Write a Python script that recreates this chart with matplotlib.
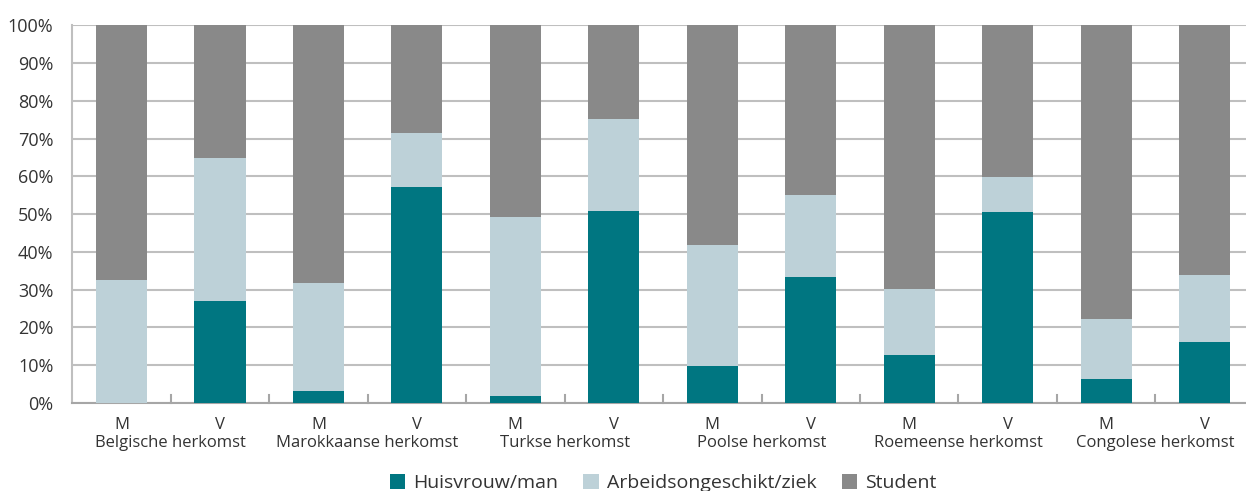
import matplotlib
matplotlib.use("Agg")
import matplotlib.pyplot as plt
import numpy as np

plt.rcParams['font.family'] = ['Open Sans', 'DejaVu Sans']

groups = ["Belgische herkomst", "Marokkaanse herkomst", "Turkse herkomst",
          "Poolse herkomst", "Roemeense herkomst", "Congolese herkomst"]
sexes = ["M", "V"]
huisvrouw = [0.0, 27.0, 3.1, 57.2, 1.9, 50.8, 9.8, 33.3, 12.6, 50.5, 6.3, 16.1]
arbeids = [32.5, 37.9, 28.6, 14.3, 47.3, 24.3, 32.0, 21.7, 17.5, 9.3, 15.9, 17.7]
student = [100 - h - a for h, a in zip(huisvrouw, arbeids)]

c_huis = "#007681"
c_arb = "#BDD1D8"
c_stu = "#898989"

fig = plt.figure(figsize=(12.46, 4.91), dpi=100)
ax = fig.add_axes([72.2/1246, 1 - 403/491, (1246 - 72.2)/1246, (403 - 25.3)/491])

x = np.arange(len(huisvrouw))
w = 0.52
h = np.array(huisvrouw); a = np.array(arbeids); s = np.array(student)
ax.bar(x, h, w, color=c_huis, label="Huisvrouw/man", zorder=3)
ax.bar(x, a, w, bottom=h, color=c_arb, label="Arbeidsongeschikt/ziek", zorder=3)
ax.bar(x, s, w, bottom=h + a, color=c_stu, label="Student", zorder=3)

ax.set_xlim(-0.5, 11.42)
ax.set_ylim(0, 100)
ax.set_yticks(np.arange(0, 101, 10))
ax.set_yticklabels([f"{v}%" for v in range(0, 101, 10)], fontsize=13, color="#333333")
ax.yaxis.grid(True, color="#BFBFBF", linewidth=1.5, zorder=0)
ax.tick_params(axis='y', length=0, pad=13.5)

ax.set_xticks(x)
ax.set_xticklabels([sexes[i % 2] for i in x], fontsize=12, color="#333333")
ax.tick_params(axis='x', length=0, pad=10)
# boundary ticks
for b in np.arange(0.5, 11.5, 1.0):
    ax.plot([b, b], [0, 2.0], color="#A6A6A6", linewidth=1.5, zorder=4, clip_on=False)

for sp in ["top", "right"]:
    ax.spines[sp].set_visible(False)
ax.spines["left"].set_color("#BFBFBF")
ax.spines["left"].set_linewidth(1.5)
ax.spines["bottom"].set_color("#A6A6A6")
ax.spines["bottom"].set_linewidth(1.5)

trans = ax.get_xaxis_transform()
for i, g in enumerate(groups):
    ax.text(2 * i + 0.5, -0.085, g, transform=trans, ha="center", va="top",
            fontsize=12, color="#333333")

fig.legend(loc="center", bbox_to_anchor=(663/1246, 1 - 483/491), ncol=3,
           frameon=False, fontsize=14, handlelength=0.8, handleheight=0.8,
           handletextpad=0.4, columnspacing=1.3, labelcolor="#333333")

fig.savefig("out.png", dpi=100)
